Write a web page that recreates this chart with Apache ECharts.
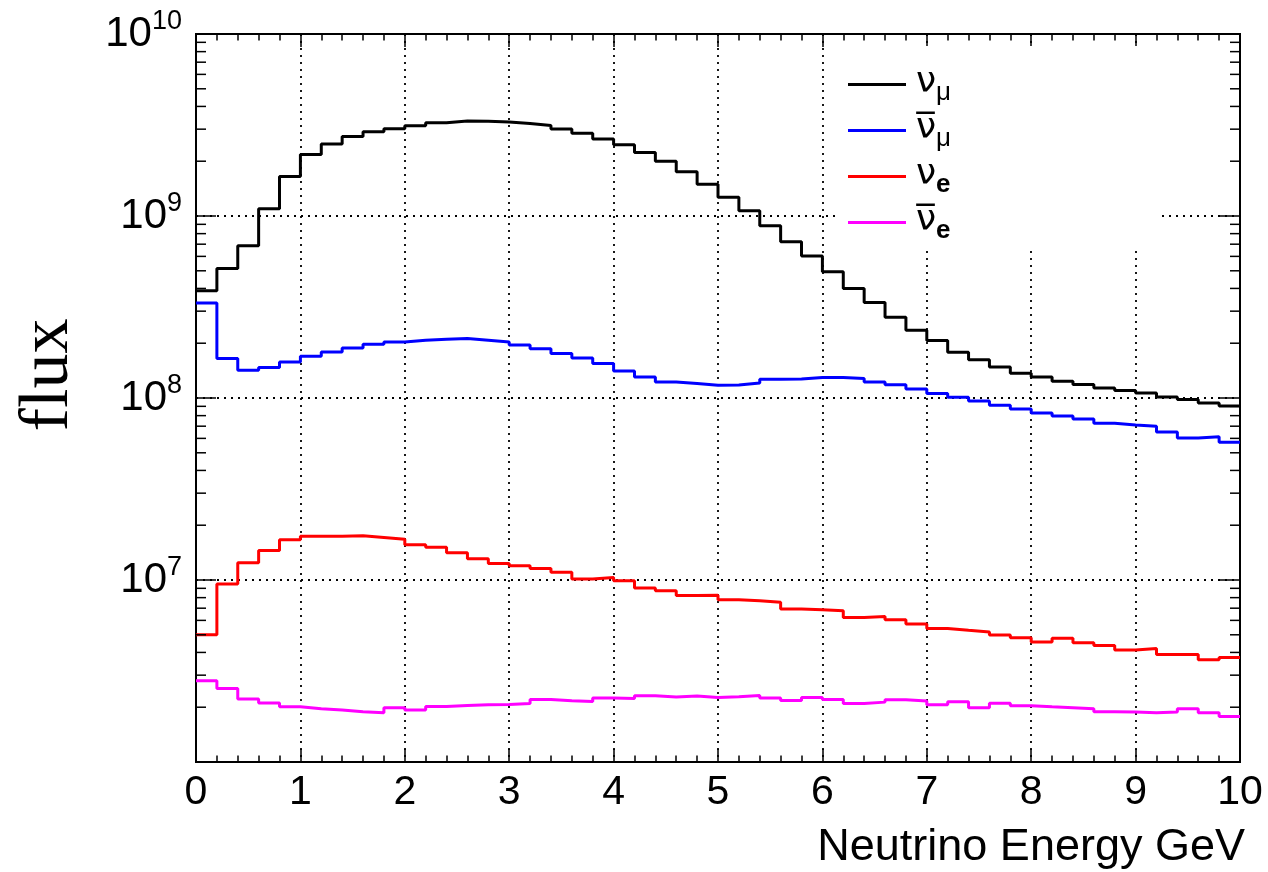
<!DOCTYPE html>
<html>
<head>
<meta charset="utf-8">
<script src="https://cdn.jsdelivr.net/npm/echarts@6/dist/echarts.min.js"></script>
<style>
html,body{margin:0;padding:0;background:#fff;}
#chart{width:1268px;height:872px;}
</style>
</head>
<body>
<div id="chart"></div>
<script>
// ---- data (bin contents, 50 bins of 0.2 GeV from 0 to 10) ----
const xMin = 0;
const xMax = 10;
const binWidth = 0.2;

const numu = [3.88e8, 5.15e8, 6.86e8, 1.097e9, 1.646e9, 2.175e9, 2.49e9, 2.73e9, 2.90e9, 3.02e9,
  3.13e9, 3.25e9, 3.33e9, 3.32e9, 3.28e9, 3.22e9, 3.14e9, 3.01e9, 2.85e9, 2.65e9,
  2.46e9, 2.23e9, 2.0e9, 1.753e9, 1.494e9, 1.267e9, 1.07e9, 8.84e8, 7.22e8, 6.03e8,
  4.94e8, 4.0e8, 3.35e8, 2.78e8, 2.36e8, 2.07e8, 1.785e8, 1.62e8, 1.48e8, 1.368e8,
  1.305e8, 1.236e8, 1.185e8, 1.135e8, 1.098e8, 1.065e8, 1.013e8, 9.8e7, 9.39e7, 9.04e7];

const numubar = [3.33e8, 1.648e8, 1.42e8, 1.47e8, 1.578e8, 1.696e8, 1.792e8, 1.885e8, 1.975e8, 2.033e8,
  2.078e8, 2.105e8, 2.123e8, 2.078e8, 2.033e8, 1.957e8, 1.866e8, 1.756e8, 1.66e8, 1.546e8,
  1.408e8, 1.305e8, 1.225e8, 1.2e8, 1.175e8, 1.18e8, 1.21e8, 1.267e8, 1.272e8, 1.295e8,
  1.295e8, 1.279e8, 1.225e8, 1.182e8, 1.121e8, 1.057e8, 1.009e8, 9.63e7, 9.12e7, 8.7e7,
  8.27e7, 7.96e7, 7.66e7, 7.26e7, 7.10e7, 6.99e7, 6.50e7, 6.03e7, 6.13e7, 5.72e7];

const nue = [5.0e6, 9.52e6, 1.242e7, 1.451e7, 1.662e7, 1.74e7, 1.74e7, 1.748e7, 1.711e7, 1.675e7,
  1.561e7, 1.514e7, 1.41e7, 1.307e7, 1.231e7, 1.196e7, 1.158e7, 1.103e7, 1.014e7, 1.031e7,
  9.92e6, 9.05e6, 8.74e6, 8.21e6, 8.24e6, 7.80e6, 7.70e6, 7.54e6, 6.93e6, 6.87e6,
  6.78e6, 6.23e6, 6.31e6, 6.04e6, 5.73e6, 5.42e6, 5.29e6, 5.18e6, 4.99e6, 4.82e6,
  4.56e6, 4.78e6, 4.52e6, 4.37e6, 4.12e6, 4.21e6, 3.90e6, 3.90e6, 3.65e6, 3.75e6];

const nuebar = [2.795e6, 2.534e6, 2.216e6, 2.107e6, 2.01e6, 1.96e6, 1.928e6, 1.887e6, 1.863e6, 1.985e6,
  1.928e6, 2.018e6, 2.044e6, 2.062e6, 2.07e6, 2.096e6, 2.205e6, 2.169e6, 2.152e6, 2.245e6,
  2.235e6, 2.312e6, 2.275e6, 2.303e6, 2.262e6, 2.282e6, 2.318e6, 2.245e6, 2.177e6, 2.262e6,
  2.205e6, 2.096e6, 2.133e6, 2.196e6, 2.161e6, 2.062e6, 2.141e6, 1.985e6, 2.106e6, 2.036e6,
  2.01e6, 1.985e6, 1.96e6, 1.887e6, 1.88e6, 1.863e6, 1.88e6, 1.96e6, 1.863e6, 1.777e6];

const seriesNames = ['numu', 'numubar', 'nue', 'nuebar'];
const legendLabels = {
  numu: '{n|\u03bd}{m|\u03bc}',
  numubar: '{n|\u03bd\u0305}{m|\u03bc}',
  nue: '{n|\u03bd}{e|e}',
  nuebar: '{n|\u03bd\u0305}{e|e}'
};
const yMin = 1e6;
const yMax = 1e10;
const logDecades = [1e6, 1e7, 1e8, 1e9];
const logMinorMultipliers = [2, 3, 4, 5, 6, 7, 8, 9];
const xTitle = 'Neutrino Energy GeV';
const yTitle = 'flux';

// ---- build ----
function stepData(vals) {
  const pts = vals.map((v, i) => [+(xMin + i * binWidth).toFixed(2), v]);
  pts.push([xMax, vals[vals.length - 1]]);
  return pts;
}
const minorTickVals = [];
logDecades.forEach(d => logMinorMultipliers.forEach(m => minorTickVals.push([xMin, d * m])));

const FONT = 'Liberation Sans';
const chart = echarts.init(document.getElementById('chart'), null, {renderer: 'canvas'});

function histSeries(name, vals, color) {
  return {
    name: name, type: 'line', step: 'end', data: stepData(vals),
    symbol: 'none', showSymbol: false, clip: true, z: 3,
    lineStyle: {color: color, width: 3},
    itemStyle: {color: color},
    emphasis: {disabled: true}
  };
}

const tickStyle = {color: '#000', width: 1.5};
const option = {
  backgroundColor: '#fff',
  animation: false,
  textStyle: {fontFamily: FONT},
  grid: {left: 196, right: 28, top: 34, bottom: 110, show: true, borderColor: '#000', borderWidth: 2, backgroundColor: 'transparent'},
  legend: {
    orient: 'vertical', left: 835, top: 46,
    padding: [17, 206, 4, 13],
    backgroundColor: '#fff',
    itemWidth: 58, itemHeight: 3, itemGap: 3, icon: 'rect',
    data: seriesNames,
    formatter: name => legendLabels[name],
    textStyle: {
      rich: {
        n: {fontSize: 36, lineHeight: 43, verticalAlign: 'top', color: '#000', fontFamily: 'DejaVu Sans', padding: [2, 0, 0, 5]},
        m: {fontSize: 26, lineHeight: 43, verticalAlign: 'bottom', color: '#000', fontFamily: FONT},
        e: {fontSize: 26, lineHeight: 43, verticalAlign: 'bottom', color: '#000', fontFamily: FONT, fontWeight: 'bold'}
      }
    },
    selectedMode: false
  },
  xAxis: [{
    type: 'value', min: xMin, max: xMax, interval: 1, position: 'bottom',
    axisLine: {show: true, onZero: false, lineStyle: {color: '#000', width: 2}},
    axisTick: {show: true, inside: true, length: 13, lineStyle: tickStyle},
    minorTick: {show: true, splitNumber: 5, length: 6.5, lineStyle: tickStyle},
    axisLabel: {color: '#000', fontSize: 41, margin: 10, fontFamily: FONT},
    splitLine: {show: true, lineStyle: {color: '#000', width: 1.8, type: [2, 5]}},
    name: xTitle, nameLocation: 'end', nameGap: 5,
    nameTextStyle: {fontSize: 45, color: '#000', align: 'right', verticalAlign: 'top', padding: [63, 0, 0, 0], fontFamily: FONT}
  }, {
    type: 'value', min: xMin, max: xMax, interval: 1, position: 'top',
    axisLine: {show: true, onZero: false, lineStyle: {color: '#000', width: 2}},
    axisTick: {show: true, inside: true, length: 13, lineStyle: tickStyle},
    minorTick: {show: true, splitNumber: 5, length: 6.5, lineStyle: tickStyle},
    axisLabel: {show: false}, splitLine: {show: false}
  }],
  yAxis: [{
    type: 'log', logBase: 10, min: yMin, max: yMax, position: 'left',
    axisLine: {show: true, onZero: false, lineStyle: {color: '#000', width: 2}},
    axisTick: {show: true, inside: true, length: 20, lineStyle: tickStyle},
    axisLabel: {
      margin: 14,
      formatter: v => {
        const e = Math.round(Math.log10(v));
        if (e <= 6) return '';
        return '{b|10}{s|' + e + '}';
      },
      rich: {
        b: {fontSize: 42, lineHeight: 52, color: '#000', fontFamily: FONT},
        s: {fontSize: 27, lineHeight: 20, verticalAlign: 'top', color: '#000', fontFamily: FONT}
      }
    },
    splitLine: {show: true, lineStyle: {color: '#000', width: 1.8, type: [2, 5]}},
    name: yTitle, nameLocation: 'middle', nameGap: 112, nameRotate: 90,
    nameTextStyle: {fontSize: 70, color: '#000', fontFamily: 'Liberation Serif', padding: [0, 0, 0, 46]}
  }, {
    type: 'log', logBase: 10, min: yMin, max: yMax, position: 'right',
    axisLine: {show: true, onZero: false, lineStyle: {color: '#000', width: 2}},
    axisTick: {show: true, inside: true, length: 20, lineStyle: tickStyle},
    axisLabel: {show: false}, splitLine: {show: false}
  }],
  series: [
    histSeries('numu', numu, '#000000'),
    histSeries('numubar', numubar, '#0000ff'),
    histSeries('nue', nue, '#ff0000'),
    histSeries('nuebar', nuebar, '#ff00ff'),
    {
      name: 'minorTicks', type: 'custom', coordinateSystem: 'cartesian2d', silent: true, z: 4,
      data: minorTickVals, clip: false,
      renderItem: (params, api) => {
        const v = api.value(1);
        const pl = api.coord([xMin, v]);
        const pr = api.coord([xMax, v]);
        return {type: 'group', children: [
          {type: 'line', shape: {x1: pl[0], y1: pl[1], x2: pl[0] + 10, y2: pl[1]}, style: {stroke: '#000', lineWidth: 1.5}},
          {type: 'line', shape: {x1: pr[0] - 10, y1: pr[1], x2: pr[0], y2: pr[1]}, style: {stroke: '#000', lineWidth: 1.5}}
        ]};
      }
    }
  ]
};
chart.setOption(option);
</script>
</body>
</html>
